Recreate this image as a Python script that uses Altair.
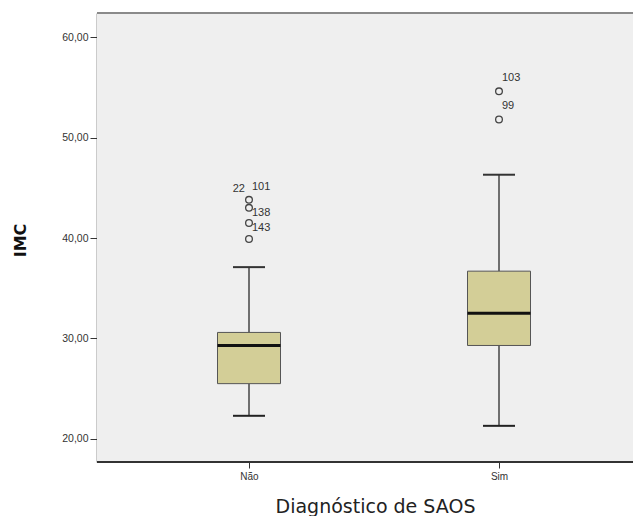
import altair as alt
import pandas as pd

# ---- data ----
groups = ["Não", "Sim"]
q1 = [25.5, 29.3]
median = [29.3, 32.5]
q3 = [30.6, 36.7]
whisker_low = [22.3, 21.3]
whisker_high = [37.1, 46.3]

outlier_group = ["Não", "Não", "Não", "Não", "Sim", "Sim"]
outlier_value = [43.8, 43.0, 41.5, 39.9, 54.6, 51.8]

label_group = ["Não", "Não", "Não", "Não", "Sim", "Sim"]
label_value = [43.8, 43.8, 43.0, 41.5, 54.6, 51.8]
label_text = ["22", "101", "138", "143", "103", "99"]
label_side = ["upper-left", "upper-right", "lower-right", "lower-right", "upper-right", "upper-right"]

y_ticks = [20, 30, 40, 50, 60]

boxes = pd.DataFrame({"g": groups, "q1": q1, "med": median, "q3": q3,
                      "lo": whisker_low, "hi": whisker_high})
outl = pd.DataFrame({"g": outlier_group, "v": outlier_value})
labs = pd.DataFrame({"g": label_group, "v": label_value, "t": label_text, "side": label_side})

W, H = 536, 449

xscale = alt.Scale(type="point", domain=groups, range=[152, 402], padding=0)
yscale = alt.Scale(domain=[17.7, 62.4], nice=False, zero=False)

x_enc = alt.X("g:N", scale=xscale, sort=groups,
              axis=alt.Axis(title="Diagnóstico de SAOS", labelAngle=0,
                            labelFont="Liberation Sans", labelFontSize=10, labelColor="#333",
                            tickSize=6, tickColor="#333", domain=False,
                            labelPadding=3,
                            titleFont="DejaVu Sans", titleFontSize=19, titleFontWeight="normal",
                            titleColor="#222", titleX=278, titleY=50,
                            titleAlign="center", titleBaseline="alphabetic"))
y_axis = alt.Axis(title="IMC", values=y_ticks,
                  labelExpr="replace(format(datum.value, '.2f'), '.', ',')",
                  labelFont="Liberation Sans", labelFontSize=10.5, labelColor="#333",
                  tickSize=7, tickColor="#333", domainColor="#333", domainWidth=1.5,
                  labelPadding=2, grid=False,
                  titleFont="DejaVu Sans", titleFontSize=16, titleFontWeight="bold",
                  titleColor="#111", titleX=-77, titleY=227, titleAngle=270,
                  titleAlign="center", titleBaseline="middle")

base_box = alt.Chart(boxes)

bg = base_box.mark_rect(fill="#EFEFEF", stroke=None).encode(
    x=alt.value(0), x2=alt.value(W), y=alt.value(0), y2=alt.value(H))
top_border = base_box.mark_rule(color="#8A8A8A", strokeWidth=2).encode(
    x=alt.value(0), x2=alt.value(W), y=alt.value(0))
bottom_border = base_box.mark_rule(color="#333", strokeWidth=2).encode(
    x=alt.value(0), x2=alt.value(W), y=alt.value(H))

whisk_up = base_box.mark_rule(color="#444", strokeWidth=1.5).encode(
    x=x_enc, y=alt.Y("q3:Q", scale=yscale, axis=y_axis), y2="hi:Q")
whisk_dn = base_box.mark_rule(color="#444", strokeWidth=1.5).encode(
    x=x_enc, y=alt.Y("lo:Q", scale=yscale), y2="q1:Q")
cap_hi = base_box.mark_tick(size=32, thickness=2, color="#333", opacity=1).encode(
    x=x_enc, y=alt.Y("hi:Q", scale=yscale))
cap_lo = base_box.mark_tick(size=32, thickness=2, color="#222", opacity=1).encode(
    x=x_enc, y=alt.Y("lo:Q", scale=yscale))
box = base_box.mark_bar(size=63, fill="#D3CE97", stroke="#555", strokeWidth=1, opacity=1).encode(
    x=x_enc, y=alt.Y("q1:Q", scale=yscale), y2="q3:Q")
med = base_box.mark_tick(size=63, thickness=3, color="#111", opacity=1).encode(
    x=x_enc, y=alt.Y("med:Q", scale=yscale))

pts = alt.Chart(outl).mark_point(shape="circle", size=45, filled=False,
                                 color="#444", strokeWidth=1.3, opacity=1).encode(
    x=x_enc, y=alt.Y("v:Q", scale=yscale))

def lab_layer(side, dx, dy, align):
    return alt.Chart(labs).transform_filter(alt.datum.side == side).mark_text(
        font="Liberation Sans", fontSize=11, color="#333", dx=dx, dy=dy,
        align=align, baseline="middle").encode(
        x=x_enc, y=alt.Y("v:Q", scale=yscale), text="t:N")

lab_ul = lab_layer("upper-left", -4, -11, "right")
lab_ur = lab_layer("upper-right", 3, -13, "left")
lab_lr = lab_layer("lower-right", 3, 5, "left")

chart = alt.layer(bg, top_border, bottom_border, whisk_up, whisk_dn, cap_hi, cap_lo,
                  box, med, pts, lab_ul, lab_ur, lab_lr).properties(
    width=W, height=H,
    autosize=alt.AutoSizeParams(type="none"),
    padding={"left": 89, "top": 5, "right": 0, "bottom": 54},
).configure_view(stroke=None).configure(background="white")

chart.save("out.html", embed_options={"renderer": "svg", "actions": False})
